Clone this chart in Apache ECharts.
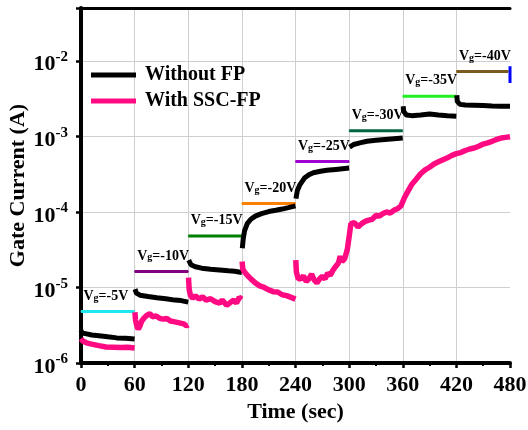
<!DOCTYPE html>
<html><head><meta charset="utf-8">
<script src="https://cdn.jsdelivr.net/npm/echarts@6/dist/echarts.min.js"></script>
<style>html,body{margin:0;padding:0;background:#fff}#c{width:528px;height:430px}</style>
</head><body><div id="c"></div>
<script>
const FONT = '"Liberation Serif","Times New Roman",serif';

// x ticks
const timeTicks = [0, 60, 120, 180, 240, 300, 360, 420, 480];
const seriesNames = ['Without FP', 'With SSC-FP'];

// Without FP (null = gap between voltage steps)
const blackTime = [
  0, 1, 5, 12, 20, 30, 40, 50, 60, null,
  60.5, 62, 66, 75, 85, 95, 105, 112, 120, null,
  120.5, 123, 128, 135, 145, 155, 165, 172, 180, null,
  180.5, 181.5, 183, 186, 190, 195, 202, 210, 218, 225, 232, 240, null,
  240.5, 242, 245, 250, 255, 260, 268, 275, 285, 300, null,
  300.5, 305, 312, 320, 330, 340, 350, 360, null,
  360.5, 361, 364, 370, 380, 390, 400, 410, 420, null,
  420.5, 421, 424, 430, 440, 450, 460, 470, 480
];
const blackCurrent = [
  2.7e-6, 2.5e-6, 2.45e-6, 2.35e-6, 2.3e-6, 2.22e-6, 2.15e-6, 2.12e-6, 2.08e-6, null,
  9.5e-6, 8.4e-6, 7.9e-6, 7.6e-6, 7.3e-6, 7.1e-6, 6.8e-6, 6.7e-6, 6.4e-6, null,
  2.3e-5, 2.0e-5, 1.88e-5, 1.8e-5, 1.74e-5, 1.7e-5, 1.66e-5, 1.64e-5, 1.58e-5, null,
  3.3e-5, 4.4e-5, 5.6e-5, 7.0e-5, 8.0e-5, 8.8e-5, 9.5e-5, 1.01e-4, 1.05e-4, 1.09e-4, 1.14e-4, 1.2e-4, null,
  1.5e-4, 1.9e-4, 2.3e-4, 2.8e-4, 3.1e-4, 3.3e-4, 3.45e-4, 3.55e-4, 3.65e-4, 3.8e-4, null,
  7.2e-4, 7.8e-4, 8.2e-4, 8.6e-4, 8.9e-4, 9.1e-4, 9.3e-4, 9.5e-4, null,
  2.5e-3, 2.15e-3, 1.92e-3, 1.88e-3, 1.92e-3, 1.97e-3, 1.92e-3, 1.88e-3, 1.85e-3, null,
  3.5e-3, 2.9e-3, 2.65e-3, 2.6e-3, 2.58e-3, 2.56e-3, 2.52e-3, 2.5e-3, 2.5e-3
];

// With SSC-FP
const pinkTime = [
  0, 2, 6, 12, 20, 28, 36, 45, 52, 60, null,
  60.3, 61, 62.5, 64, 66, 68, 71, 74, 77, 80, 84, 88, 92, 96, 100, 105, 110, 115, 118, 120, null,
  120.3, 121, 122.5, 125, 128, 132, 136, 140, 145, 150, 155, 158, 163, 167, 171, 174, 177, 180, null,
  180.3, 181, 183, 186, 190, 195, 200, 205, 210, 215, 220, 225, 230, 235, 240, null,
  240.3, 241, 243, 246, 249, 252, 255, 258, 261, 264, 267, 270, 273, 276, 279, 282, 285, 288, 290, 292, 295, 298,
  300, 302, 306, 310, 314, 318, 322, 326, 330, 334, 338, 342, 346, 350, 354, 358,
  362, 366, 370, 375, 380, 385, 390, 395, 400, 405, 410, 415, 420,
  425, 430, 435, 440, 445, 450, 455, 460, 465, 470, 475, 480
];
const pinkCurrent = [
  2.1e-6, 1.95e-6, 1.85e-6, 1.78e-6, 1.7e-6, 1.63e-6, 1.62e-6, 1.6e-6, 1.62e-6, 1.58e-6, null,
  4.7e-6, 3.7e-6, 3.1e-6, 2.8e-6, 3.1e-6, 3.6e-6, 4.0e-6, 4.3e-6, 4.5e-6, 4.1e-6, 4.2e-6, 3.9e-6, 3.8e-6, 3.9e-6, 3.6e-6, 3.5e-6, 3.4e-6, 3.3e-6, 3.1e-6, 3.2e-6, null,
  1.35e-5, 9.5e-6, 7.8e-6, 7.2e-6, 7.8e-6, 7.0e-6, 7.5e-6, 6.8e-6, 7.1e-6, 6.5e-6, 6.2e-6, 6.8e-6, 5.8e-6, 6.3e-6, 6.8e-6, 6.2e-6, 7.4e-6, 7.0e-6, null,
  2.2e-5, 1.75e-5, 1.6e-5, 1.45e-5, 1.3e-5, 1.15e-5, 1.05e-5, 1.0e-5, 9.3e-6, 8.8e-6, 8.7e-6, 8.0e-6, 7.8e-6, 7.4e-6, 7.0e-6, null,
  2.3e-5, 1.6e-5, 1.3e-5, 1.3e-5, 1.42e-5, 1.2e-5, 1.3e-5, 1.5e-5, 1.25e-5, 1.15e-5, 1.3e-5, 1.4e-5, 1.3e-5, 1.55e-5, 1.45e-5, 1.7e-5, 1.9e-5, 2.1e-5, 2.6e-5, 2.2e-5, 2.4e-5, 3.2e-5,
  4.7e-5, 7.0e-5, 7.2e-5, 6.3e-5, 7.0e-5, 7.5e-5, 7.8e-5, 8.0e-5, 9.0e-5, 8.8e-5, 9.5e-5, 1.0e-4, 9.6e-5, 1.05e-4, 1.1e-4, 1.2e-4,
  1.55e-4, 1.9e-4, 2.3e-4, 2.7e-4, 3.2e-4, 3.6e-4, 3.9e-4, 4.3e-4, 4.6e-4, 4.9e-4, 5.2e-4, 5.6e-4, 5.9e-4,
  6.1e-4, 6.5e-4, 6.8e-4, 7.0e-4, 7.4e-4, 7.9e-4, 8.2e-4, 8.6e-4, 9.1e-4, 9.5e-4, 9.7e-4, 9.9e-4
];

// Gate voltage step markers
const stepVoltage = ['-5V', '-10V', '-15V', '-20V', '-25V', '-30V', '-35V', '-40V'];
const stepStart = [0, 60, 120, 180, 240, 300, 360, 420];
const stepEnd = [60, 120, 180, 240, 300, 360, 420, 478];
const stepLevel = [4.8e-6, 1.63e-5, 4.8e-5, 1.29e-4, 4.65e-4, 1.19e-3, 3.4e-3, 7.2e-3];
const stepColors = ['#1ee8ee', '#800080', '#008000', '#ff8000', '#a000d0', '#006640', '#22f022', '#7a5a1e'];

// Blue end marker at t = 480 s
const endMarkTime = [480, 480];
const endMarkCurrent = [8.5e-3, 5.1e-3];

function pairs(t, v) {
  return t.map((x, i) => x === null ? ['-', '-'] : [x, v[i]]);
}

const stepSeries = stepVoltage.map((lab, i) => ({
  type: 'line', silent: true, z: 3,
  symbol: 'circle', symbolSize: 1, showSymbol: true,
  itemStyle: { color: stepColors[i] },
  lineStyle: { color: stepColors[i], width: 3 },
  data: [
    { value: [stepStart[i], stepLevel[i]],
      label: { show: true, position: [3, -22], formatter: '{a|V}{g|g}{a|=' + lab + '}',
        rich: {
          a: { fontFamily: FONT, fontWeight: 'bold', fontSize: 14, lineHeight: 14, color: '#000', verticalAlign: 'top' },
          g: { fontFamily: FONT, fontWeight: 'bold', fontSize: 10, lineHeight: 10, color: '#000', verticalAlign: 'top', padding: [4, 0, 0, 0] }
        } } },
    [stepEnd[i], stepLevel[i]]
  ]
}));

const chart = echarts.init(document.getElementById('c'), null, { renderer: 'canvas' });
const mainAxisLine = { show: true, lineStyle: { color: '#000', width: 4 } };
const frameAxisLine = { show: true, lineStyle: { color: '#000', width: 3 } };
chart.setOption({
  animation: false,
  backgroundColor: '#fff',
  grid: { left: 81, right: 18, top: 8, bottom: 67, containLabel: false, outerBoundsMode: 'none' },
  legend: {
    data: seriesNames, orient: 'vertical', left: 86, top: 60,
    icon: 'rect', itemWidth: 45, itemHeight: 5, itemGap: 6,
    textStyle: { fontFamily: FONT, fontWeight: 'bold', fontSize: 20, color: '#000', padding: [0, 0, 0, 4] }
  },
  xAxis: [{
    type: 'value', min: 0, max: 480, interval: 60,
    name: 'Time (sec)', nameLocation: 'middle', nameGap: 38, nameMoveOverlap: false,
    nameTextStyle: { fontFamily: FONT, fontWeight: 'bold', fontSize: 22, color: '#000' },
    axisLine: mainAxisLine,
    axisTick: { show: true, length: 5, lineStyle: { color: '#000', width: 2.5 } },
    minorTick: { show: true, splitNumber: 2, length: 3, lineStyle: { color: '#000', width: 2 } },
    axisLabel: { fontFamily: FONT, fontWeight: 'bold', fontSize: 22, color: '#000', margin: 11 },
    splitLine: { show: true, showMinLine: false, showMaxLine: false, lineStyle: { color: '#cfcfcf', width: 1 } }
  }, {
    type: 'value', min: 0, max: 480, position: 'top',
    axisLine: frameAxisLine, axisTick: { show: false }, axisLabel: { show: false }, splitLine: { show: false }
  }],
  yAxis: [{
    type: 'log', logBase: 10, min: 1e-6, max: 0.05,
    name: 'Gate Current (A)', nameLocation: 'middle', nameGap: 52, nameMoveOverlap: false,
    nameTextStyle: { fontFamily: FONT, fontWeight: 'bold', fontSize: 22, color: '#000' },
    axisLine: mainAxisLine,
    axisTick: { show: true, length: 5, lineStyle: { color: '#000', width: 2.5 } },
    axisLabel: {
      margin: 13,
      formatter: v => {
        const l = Math.log10(v), e = Math.round(l);
        if (Math.abs(l - e) > 1e-6) return '';
        return '{b|10}{s|' + e + '}';
      },
      rich: {
        b: { fontFamily: FONT, fontWeight: 'bold', fontSize: 22, lineHeight: 22, color: '#000', verticalAlign: 'top', padding: [4, 0, 0, 0] },
        s: { fontFamily: FONT, fontWeight: 'bold', fontSize: 15, lineHeight: 15, color: '#000', verticalAlign: 'top' }
      }
    },
    splitLine: { show: true, showMinLine: false, showMaxLine: false, lineStyle: { color: '#cfcfcf', width: 1 } }
  }, {
    type: 'log', logBase: 10, min: 1e-6, max: 0.05, position: 'right',
    axisLine: frameAxisLine, axisTick: { show: false }, axisLabel: { show: false }, splitLine: { show: false }
  }],
  series: [
    ...stepSeries,
    {
      name: 'Without FP', type: 'line', showSymbol: false, symbol: 'none', connectNulls: false, z: 4,
      itemStyle: { color: '#000' }, lineStyle: { color: '#000', width: 5 },
      data: pairs(blackTime, blackCurrent)
    },
    {
      name: 'With SSC-FP', type: 'line', showSymbol: false, symbol: 'none', connectNulls: false, z: 4,
      itemStyle: { color: '#ff0a82' }, lineStyle: { color: '#ff0a82', width: 5.5 },
      data: pairs(pinkTime, pinkCurrent)
    },
    {
      type: 'line', silent: true, showSymbol: false, symbol: 'none', z: 5,
      lineStyle: { color: '#0000ff', width: 3 },
      data: pairs(endMarkTime, endMarkCurrent)
    }
  ]
});
</script></body></html>
